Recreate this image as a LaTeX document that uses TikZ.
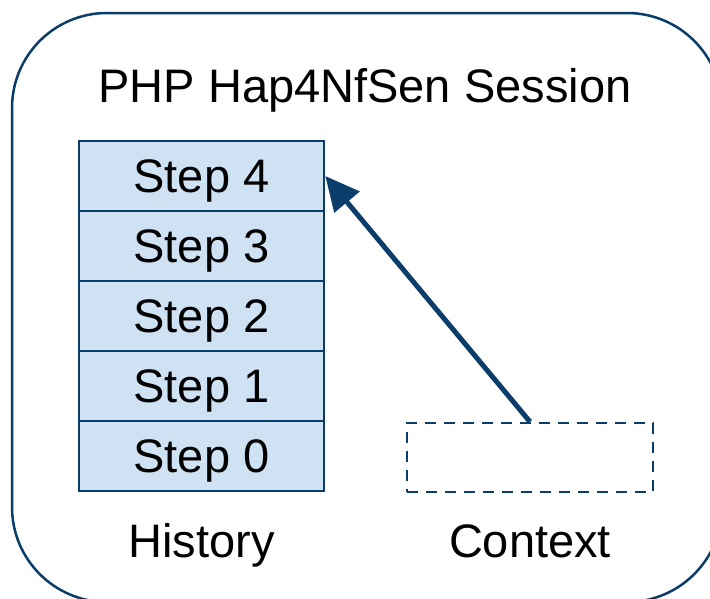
\documentclass[tikz,border=0pt]{standalone}
\usepackage{fontspec}
\setmainfont{Liberation Sans}
\usetikzlibrary{arrows.meta}
\definecolor{navy}{HTML}{0B3D6B}
\definecolor{paleblue}{HTML}{CFE2F3}
\tikzset{
  big/.style={font=\fontsize{47}{56}\selectfont},
  stepbox/.style={draw=navy, line width=2.6pt, fill=paleblue, minimum width=245pt,
    minimum height=70pt, inner sep=0pt},
  steptext/.style={big, inner sep=0pt, anchor=base},
  ctxbox/.style={draw=navy, line width=2.4pt, dash pattern=on 11pt off 8pt,
    minimum width=246pt, minimum height=69pt, inner sep=0pt},
  label/.style={big, inner sep=0pt, anchor=base},
  link/.style={draw=navy, line width=5pt, -{Triangle[length=34pt,width=32pt]}}
}
\begin{document}
\begin{tikzpicture}[x=1pt, y=-1pt]
  \useasboundingbox (0,0) rectangle (710,598);
  % session frame
  \draw[navy, line width=2.5pt, rounded corners=95pt] (12,13) rectangle (722,602);
  \node[label] (title) at (365,102) {PHP Hap4NfSen Session};
  % history stack
  \foreach \i/\y in {4/176,3/246,2/316,1/386,0/456}{
    \node[stepbox] (s\i) at (201.5,\y) {};
    \node[steptext] (t\i) at (201.5,\y+16) {Step \i};
  }
  \node[label] (hist) at (201.5,557) {History};
  % context
  \node[ctxbox] (ctx) at (530,457.5) {};
  \node[label] (ctxl) at (530,557) {Context};
  \draw[link] (ctx.north) -- (s4.east);
\end{tikzpicture}
\end{document}
